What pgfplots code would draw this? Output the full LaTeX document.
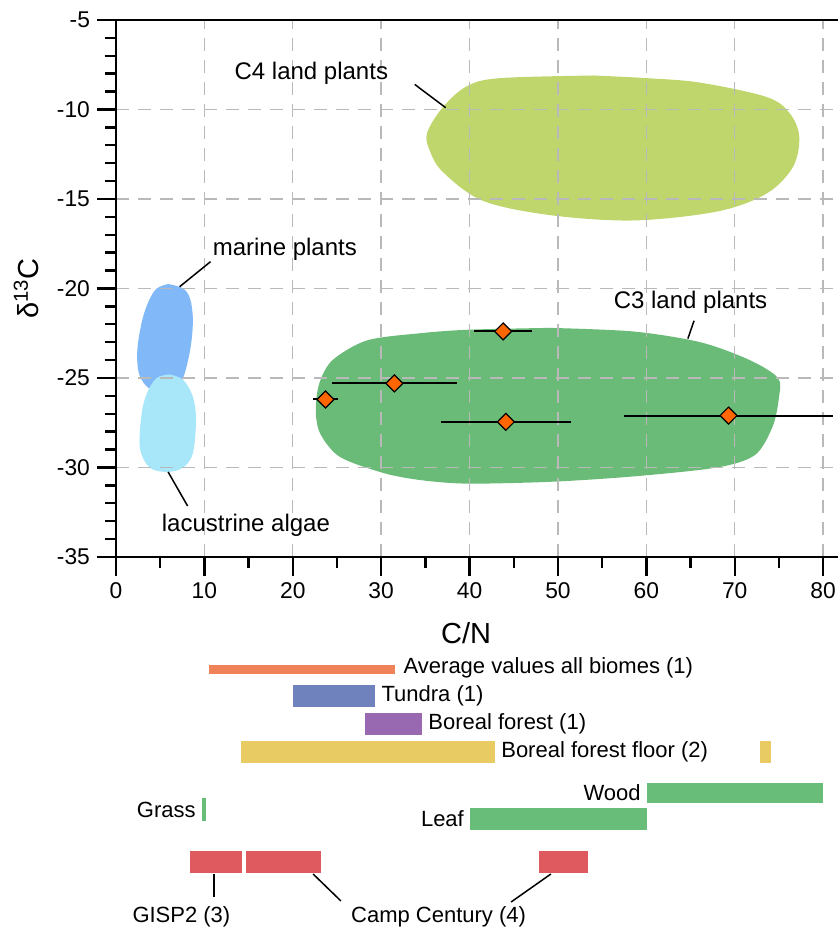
\documentclass[border=0pt]{standalone}
\usepackage{fontspec}
\setmainfont{Liberation Sans}
\usepackage{pgfplots}
\pgfplotsset{compat=1.18}
\definecolor{cfour}{HTML}{BED66C}
\definecolor{cthree}{HTML}{69BB77}
\definecolor{marine}{HTML}{80B8F8}
\definecolor{lacus}{HTML}{A8E6FA}
\definecolor{mk}{HTML}{FF6600}
\definecolor{cavg}{HTML}{EF8258}
\definecolor{ctun}{HTML}{6F82BD}
\definecolor{cbor}{HTML}{9868B0}
\definecolor{cbff}{HTML}{E8CB62}
\definecolor{cgr}{HTML}{68BD78}
\definecolor{cred}{HTML}{DE5A5E}
\pgfplotstableread{
x y ex
43.8 -22.4 3.3
31.5 -25.3 7.1
23.7 -26.2 1.4
44.1 -27.45 7.35
69.3 -27.1 11.8
}\pts
\tikzset{lab/.style={inner sep=0pt, font=\fontsize{11}{13}\selectfont}}
\begin{document}
\begin{tikzpicture}
\begin{axis}[
  set layers,
  at={(0,0)}, anchor=south west,
  scale only axis, width=362.4pt, height=268.5pt,
  xmin=0, xmax=82, ymin=-35, ymax=-5,
  xtick={0,10,...,80}, minor x tick num=1,
  ytick={-35,-30,...,-5}, minor y tick num=4,
  tick pos=left, tick align=outside,
  major tick length=9.5pt, minor tick length=5.5pt,
  every tick/.style={black, line width=1.2pt},
  axis line style={line width=1.25pt},
  grid=major,
  major grid style={gray!55, line width=0.7pt, dash pattern=on 6.5pt off 4.5pt},
  /pgf/number format/assume math mode=true,
  ticklabel style={font=\fontsize{11.4}{13}\selectfont},
  xlabel={C/N}, ylabel={δ\textsuperscript{13}C},
  label style={font=\fontsize{14.5}{16}\selectfont},
  xlabel style={at={(axis description cs:0.483,-0.1415)}, anchor=center},
  ylabel style={at={(axis description cs:-0.124,0.5)}, anchor=center},
  clip=false,
]
\addplot[on layer=axis background, fill=cfour, draw=none, smooth, tension=0.55] coordinates {
 (54.0,-8.1) (60.1,-8.25) (66.1,-8.5) (73.6,-9.3) (76.2,-10.2) (77.3,-11.5) (76.6,-13.2)
 (73.6,-14.7) (68.0,-15.7) (58.5,-16.2) (49.1,-15.9) (41.5,-15.1) (37.0,-13.5) (35.5,-12.3)
 (35.2,-11.3) (37.0,-9.86) (39.7,-8.7) (43.4,-8.25) (54.0,-8.1)} -- cycle;
\addplot[on layer=axis background, fill=cthree, draw=none, smooth, tension=0.5] coordinates {
 (49.1,-22.2) (58.5,-22.4) (66.1,-23.0) (71.7,-24.0) (74.9,-25.0) (75.0,-26.1) (74.3,-27.7)
 (72.3,-29.3) (68.0,-30.0) (58.5,-30.5) (49.1,-30.8) (39.7,-30.9) (34.4,-30.7) (30.2,-30.3)
 (25.3,-29.4) (23.1,-28.1) (22.6,-26.8) (23.0,-25.3) (24.5,-24.0) (28.4,-22.9) (34.4,-22.5)
 (40.0,-22.3) (49.1,-22.2)} -- cycle;
\addplot[on layer=axis background, fill=marine, draw=none, smooth, tension=0.55] coordinates {
 (5.9,-19.75) (7.6,-20.0) (8.4,-20.6) (8.7,-21.8) (8.4,-23.4) (7.5,-25.1) (6.0,-25.9)
 (3.8,-25.6) (2.7,-24.9) (2.4,-24.0) (2.5,-23.0) (3.0,-21.7) (3.7,-20.7) (4.6,-20.0) (5.9,-19.75)} -- cycle;
\addplot[on layer=axis background, fill=lacus, draw=none, smooth, tension=0.55] coordinates {
 (6.1,-24.8) (7.6,-25.1) (8.7,-26.05) (9.05,-27.35) (8.7,-29.2) (7.6,-30.0) (5.8,-30.25)
 (3.8,-30.0) (2.7,-28.9) (2.9,-27.0) (3.5,-25.85) (4.6,-25.0) (6.1,-24.8)} -- cycle;
% leader lines
\addplot[black, line width=0.75pt] coordinates {(33.8,-8.6) (37.3,-9.9)};
\addplot[black, line width=0.75pt] coordinates {(65.4,-21.8) (64.7,-22.8)};
\addplot[black, line width=0.75pt] coordinates {(10.7,-18.5) (7.2,-19.9)};
\addplot[black, line width=0.75pt] coordinates {(5.9,-30.25) (8.1,-32.15)};
% data points
\addplot[only marks, mark=square*, mark size=3pt,
  mark options={rotate=45, fill=mk, draw=black, line width=0.6pt},
  error bars/.cd, x dir=both, x explicit, error mark=none,
  error bar style={black, line width=1pt}]
  table[x=x, y=y, x error=ex] {\pts};
\node[anchor=base, font=\fontsize{12}{14}\selectfont] at (axis cs:22.1,-8.35) {C4 land plants};
\node[anchor=base, font=\fontsize{12}{14}\selectfont] at (axis cs:65.0,-21.09) {C3 land plants};
\node[anchor=base, font=\fontsize{12}{14}\selectfont] at (axis cs:19.1,-18.13) {marine plants};
\node[anchor=base, font=\fontsize{12}{14}\selectfont] at (axis cs:14.7,-33.6) {lacustrine algae};
\end{axis}
\begin{axis}[
  at={(0,-41.5pt)}, anchor=north west,
  scale only axis, width=362.4pt, height=145pt,
  xmin=0, xmax=82, ymin=640, ymax=930, y dir=reverse,
  hide axis, clip=false,
]
\addplot[fill=cavg, draw=none] coordinates {(10.5,665) (31.6,665) (31.6,674) (10.5,674)} -- cycle;
\addplot[fill=ctun, draw=none] coordinates {(20.0,685) (29.3,685) (29.3,707) (20.0,707)} -- cycle;
\addplot[fill=cbor, draw=none] coordinates {(28.2,713) (34.6,713) (34.6,735) (28.2,735)} -- cycle;
\addplot[fill=cbff, draw=none] coordinates {(14.1,741) (42.9,741) (42.9,763) (14.1,763)} -- cycle;
\addplot[fill=cbff, draw=none] coordinates {(72.85,741) (74.1,741) (74.1,763) (72.85,763)} -- cycle;
\addplot[fill=cgr, draw=none] coordinates {(60.1,783) (80.0,783) (80.0,803) (60.1,803)} -- cycle;
\addplot[fill=cgr, draw=none] coordinates {(9.7,798) (10.15,798) (10.15,821) (9.7,821)} -- cycle;
\addplot[fill=cgr, draw=none] coordinates {(40.0,808) (60.1,808) (60.1,830) (40.0,830)} -- cycle;
\addplot[fill=cred, draw=none] coordinates {(8.4,851) (14.3,851) (14.3,873) (8.4,873)} -- cycle;
\addplot[fill=cred, draw=none] coordinates {(14.7,851) (23.2,851) (23.2,873) (14.7,873)} -- cycle;
\addplot[fill=cred, draw=none] coordinates {(47.85,851) (53.4,851) (53.4,873) (47.85,873)} -- cycle;
\addplot[black, line width=0.75pt] coordinates {(11.1,874) (11.1,897)};
\addplot[black, line width=0.75pt] coordinates {(22.3,874) (25.45,901)};
\addplot[black, line width=0.75pt] coordinates {(49.2,874) (44.7,902)};
\node[lab, anchor=west] at (axis cs:32.5,668) {Average values all biomes (1)};
\node[lab, anchor=west] at (axis cs:30.0,696) {Tundra (1)};
\node[lab, anchor=west] at (axis cs:35.3,724) {Boreal forest (1)};
\node[lab, anchor=west] at (axis cs:43.55,752) {Boreal forest floor (2)};
\node[lab, anchor=east] at (axis cs:59.4,793) {Wood};
\node[lab, anchor=east] at (axis cs:9.05,810) {Grass};
\node[lab, anchor=east] at (axis cs:39.4,819) {Leaf};
\node[lab, anchor=center] at (axis cs:7.4,917) {GISP2 (3)};
\node[lab, anchor=center] at (axis cs:36.5,917) {Camp Century (4)};
\end{axis}
\pgfresetboundingbox
\path[use as bounding box] (-58pt,-186.5pt) rectangle (361pt,278.5pt);
\end{tikzpicture}
\end{document}
